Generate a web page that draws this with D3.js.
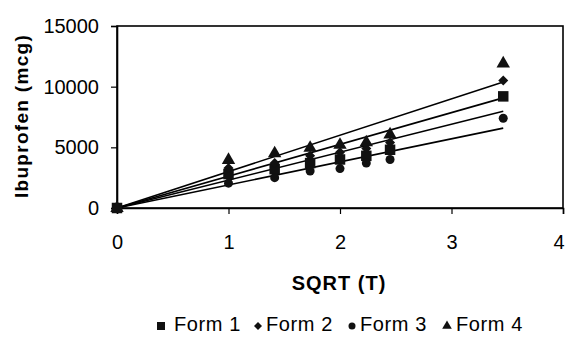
<!DOCTYPE html>
<html>
<head>
<meta charset="utf-8">
<script src="https://cdn.jsdelivr.net/npm/d3@7"></script>
<style>
  html, body { margin: 0; padding: 0; background: #fff; }
  svg { display: block; font-family: Arial, "Liberation Sans", sans-serif; }
</style>
</head>
<body>
<svg id="chart" width="567" height="341"></svg>
<script>
// Square root of time (hours) at each sampling point
const sqrtT = [0, 1, 1.414, 1.732, 2, 2.236, 2.449, 3.464];

// Cumulative ibuprofen released (mcg)
const form1 = [0, 2800, 3200, 3700, 4000, 4300, 4800, 9200];
const form2 = [0, 3300, 3700, 4300, 4600, 4900, 5400, 10500];
const form3 = [0, 2050, 2500, 3050, 3250, 3700, 4000, 7400];
const form4 = [0, 3950, 4500, 4950, 5200, 5400, 6050, 11900];

const seriesNames = ["Form 1", "Form 2", "Form 3", "Form 4"];
const seriesShapes = ["square", "diamond", "circle", "triangle"];

// Slopes of the linear fits through the origin (mcg per sqrt-hour)
const trendSlopes = [2300, 2620, 1900, 3000];

const xTicks = [0, 1, 2, 3, 4];
const yTicks = [0, 5000, 10000, 15000];

const seriesValues = [form1, form2, form3, form4];

const svg = d3.select("#chart");
const plot = { left: 117, right: 563, top: 26, bottom: 208 };

const x = d3.scaleLinear().domain([0, 4]).range([plot.left, plot.right]);
const y = d3.scaleLinear().domain([0, 15000]).range([plot.bottom, plot.top]);

// Plot frame
svg.append("rect")
  .attr("x", plot.left).attr("y", plot.top)
  .attr("width", plot.right - plot.left).attr("height", plot.bottom - plot.top)
  .attr("fill", "none").attr("stroke", "#000").attr("stroke-width", 1.6);

// Axes
const yAxis = svg.append("g")
  .attr("transform", `translate(${plot.left},0)`)
  .call(d3.axisLeft(y).tickValues(yTicks).tickSize(6).tickPadding(12).tickFormat(d3.format("d")));
const xAxis = svg.append("g")
  .attr("transform", `translate(0,${plot.bottom})`)
  .call(d3.axisBottom(x).tickValues(xTicks).tickSize(6).tickPadding(21).tickFormat(d3.format("d")));

[xAxis, yAxis].forEach(g => {
  g.select(".domain").attr("stroke", "#000").attr("stroke-width", 1.6);
  g.selectAll(".tick line").attr("stroke", "#000").attr("stroke-width", 1.2);
  g.selectAll(".tick text")
    .attr("fill", "#000")
    .style("font-family", "Arial, 'Liberation Sans', sans-serif")
    .style("font-size", "20px");
});
xAxis.selectAll(".tick text").attr("dy", "0.71em");
// keep the last x label inside the canvas
xAxis.selectAll(".tick text").filter(d => d === 4).attr("text-anchor", "end").attr("dx", "0.05em");

// Axis titles
svg.append("text")
  .attr("x", 339).attr("y", 290)
  .attr("text-anchor", "middle")
  .style("font-size", "20px").style("font-weight", "bold")
  .style("letter-spacing", "1px")
  .text("SQRT (T)");

svg.append("text")
  .attr("transform", "translate(28,116) rotate(-90)")
  .attr("text-anchor", "middle")
  .style("font-size", "19px").style("font-weight", "bold")
  .style("letter-spacing", "1.3px")
  .text("Ibuprofen (mcg)");

// Marker shapes
function markerPath(shape, s) {
  if (shape === "square") return d3.symbol(d3.symbolSquare, s * s)();
  if (shape === "circle") return d3.symbol(d3.symbolCircle, Math.PI * (s / 2) * (s / 2))();
  if (shape === "triangle") return d3.symbol(d3.symbolTriangle, s * s * 0.5)();
  const h = s / 2;
  return `M0,${-h}L${h},0L0,${h}L${-h},0Z`;
}
const markerSize = { square: 10.5, diamond: 10, circle: 9, triangle: 12.5 };

// Trend lines
const xEnd = d3.max(sqrtT);
svg.append("g").selectAll("line")
  .data(trendSlopes)
  .join("line")
  .attr("x1", x(0)).attr("y1", y(0))
  .attr("x2", x(xEnd)).attr("y2", d => y(d * xEnd))
  .attr("stroke", "#000").attr("stroke-width", 1.6);

// Data markers
seriesValues.forEach((vals, i) => {
  const shape = seriesShapes[i];
  svg.append("g").selectAll("path")
    .data(vals.map((v, j) => [sqrtT[j], v]))
    .join("path")
    .attr("d", markerPath(shape, markerSize[shape]))
    .attr("transform", d => `translate(${x(d[0])},${y(d[1])})`)
    .attr("fill", "#111");
});

// Legend
const legendItems = [
  { sx: 161, tx: 174 },
  { sx: 258, tx: 266 },
  { sx: 352, tx: 360 },
  { sx: 447, tx: 456 }
];
const legendSize = { square: 8, diamond: 8, circle: 7, triangle: 9 };
const legend = svg.append("g");
legendItems.forEach((it, i) => {
  const shape = seriesShapes[i];
  legend.append("path")
    .attr("d", markerPath(shape, legendSize[shape]))
    .attr("transform", `translate(${it.sx},326)`)
    .attr("fill", "#111");
  legend.append("text")
    .attr("x", it.tx).attr("y", 331)
    .style("font-size", "20px")
    .style("letter-spacing", "0.6px")
    .text(seriesNames[i]);
});
</script>
</body>
</html>
